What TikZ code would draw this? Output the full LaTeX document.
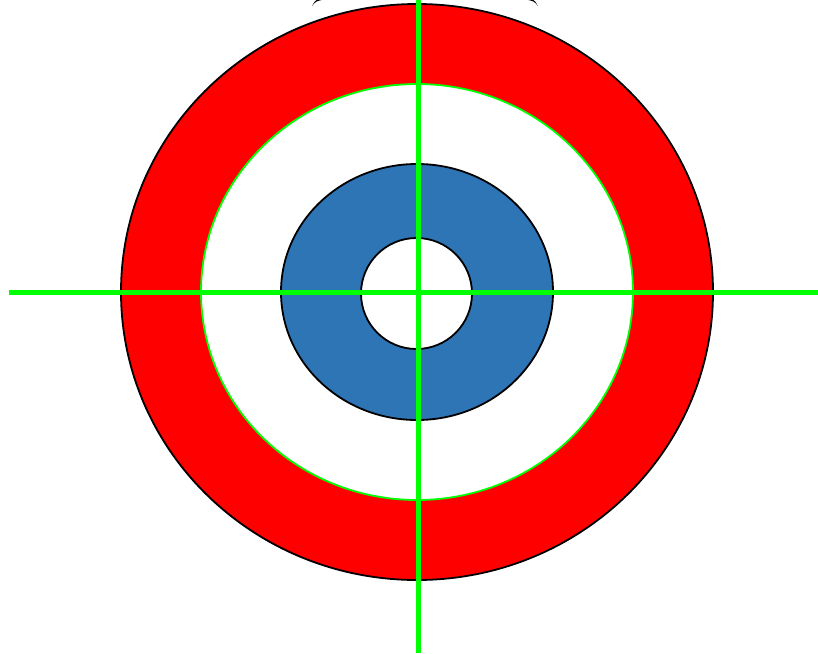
\documentclass[tikz,border=0pt]{standalone}
\begin{document}
\begin{tikzpicture}[x=1pt,y=-1pt,
  ring/.style={draw=black,line width=1.8pt},
  wedge/.style={fill=black}]
\definecolor{ringred}{RGB}{255,0,0}
\definecolor{ringblue}{RGB}{46,117,182}
\definecolor{axgreen}{RGB}{0,255,0}
\useasboundingbox (0,0) rectangle (818,653);
\coordinate (c) at (417,292);
\fill[ringred] (c) ellipse [x radius=296, y radius=288];
\draw[ring] (c) ellipse [x radius=296, y radius=288];
\fill[white] (c) ellipse [x radius=216, y radius=208];
\draw[draw=axgreen,line width=1.8pt] (c) ellipse [x radius=216, y radius=208];
\fill[ringblue] (c) ellipse [x radius=136, y radius=128];
\draw[ring] (c) ellipse [x radius=136, y radius=128];
\fill[white] (416.5,293.5) circle [radius=55.5];
\draw[ring] (416.5,293.5) circle [radius=55.5];
\fill[wedge] (312,6) .. controls (316,1) .. (327,-1) -- (318,-1) .. controls (315,1) .. (312,6) -- cycle;
\fill[wedge] (538,6) .. controls (534,1) .. (523,-1) -- (532,-1) .. controls (535,1) .. (538,6) -- cycle;
\coordinate (hl) at (9,292);
\coordinate (hr) at (818,292);
\coordinate (vt) at (418,0);
\coordinate (vb) at (418,653);
\draw[draw=axgreen,line width=5pt] (hl) -- (hr);
\draw[draw=axgreen,line width=5pt] (vt) -- (vb);
\end{tikzpicture}
\end{document}
